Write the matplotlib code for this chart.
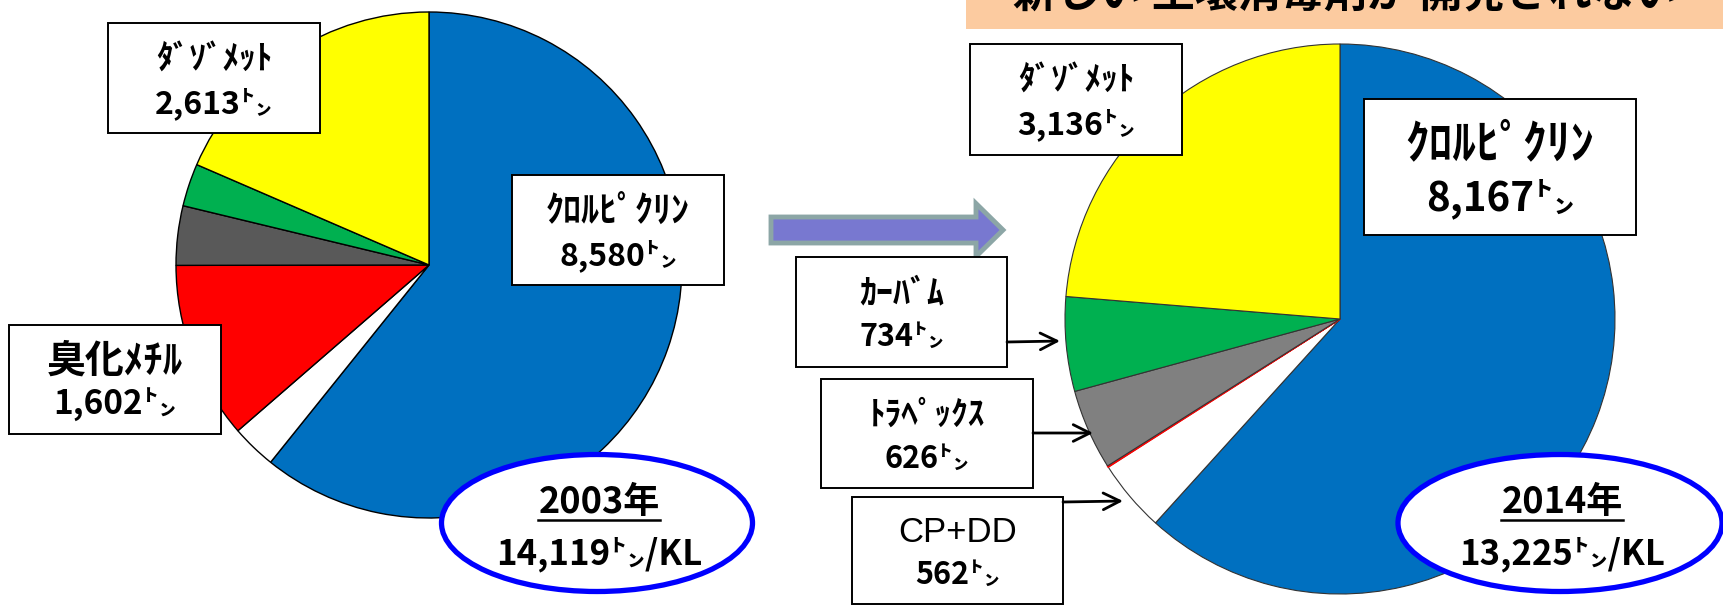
import matplotlib
matplotlib.use('Agg')
import matplotlib.pyplot as plt
from matplotlib.patches import Ellipse, Rectangle, FancyArrow

plt.rcParams['font.family'] = ['Noto Sans CJK JP', 'DejaVu Sans']

W, H = 1724, 606

# 2003 pie, clockwise from the top
names_2003 = ['ｸﾛﾙﾋﾟｸﾘﾝ', 'その他', '臭化ﾒﾁﾙ', 'その他', 'その他', 'ﾀﾞｿﾞﾒｯﾄ']
values_2003 = [8580, 404, 1602, 535, 385, 2613]
colors_2003 = ['#0070C0', '#FFFFFF', '#FF0000', '#595959', '#00B050', '#FFFF00']
total_2003 = 14119

# 2014 pie, clockwise from the top
names_2014 = ['ｸﾛﾙﾋﾟｸﾘﾝ', 'CP+DD', '臭化ﾒﾁﾙ', 'ﾄﾗﾍﾟｯｸｽ', 'ｶｰﾊﾞﾑ', 'ﾀﾞｿﾞﾒｯﾄ']
values_2014 = [8167, 562, 10, 626, 734, 3136]
colors_2014 = ['#0070C0', '#FFFFFF', '#FF0000', '#808080', '#00B050', '#FFFF00']
total_2014 = 13225

banner = '新しい 土壌消毒剤が 開発されない'


def Y(y):
    # image rows -> data y
    return H - y


def tons(v):
    return f'{v:,}㌧'


def label_box(ax, x0, y0, x1, y1, name, value, size, name_size, name_font=None):
    ax.add_patch(Rectangle((x0, Y(y1)), x1 - x0, y1 - y0, facecolor='white',
                           edgecolor='black', linewidth=1.4, zorder=5))
    cx = (x0 + x1) / 2
    h = y1 - y0
    if name_font:
        ax.text(cx, Y(y0 + h * 0.33), name, ha='center', va='center',
                fontsize=name_size, family=name_font, zorder=6)
    else:
        ax.text(cx, Y(y0 + h * 0.33), name, ha='center', va='center',
                fontsize=name_size, fontweight='bold', zorder=6)
    ax.text(cx, Y(y0 + h * 0.73), tons(value), ha='center', va='center',
            fontsize=size, fontweight='bold', zorder=6)


def year_oval(ax, cx, cy, w, h, year, total, size):
    ax.add_patch(Ellipse((cx, Y(cy)), w, h, facecolor='white', edgecolor='#0000FF',
                         linewidth=3.8, zorder=7))
    t = ax.text(cx + 2, Y(cy - 20), f'{year}年', ha='center', va='center',
                fontsize=size, fontweight='bold', zorder=8)
    ax.text(cx + 2, Y(cy + 31), f'{total:,}㌧/KL', ha='center', va='center',
            fontsize=size - 1, fontweight='bold', zorder=8)
    return t


fig = plt.figure(figsize=(W / 100, H / 100), dpi=100)
ax = fig.add_axes([0, 0, 1, 1])

wp = dict(edgecolor='black', linewidth=1.0)
ax.pie(values_2003, colors=colors_2003, startangle=90, counterclock=False,
       center=(429, Y(265)), radius=253, wedgeprops=wp)
w2, _ = ax.pie(values_2014, colors=colors_2014, startangle=90, counterclock=False,
               center=(1340, Y(319)), radius=275,
               wedgeprops=dict(edgecolor='#333333', linewidth=0.8))
w2[2].set_edgecolor('#FF0000')
w2[2].set_linewidth(1.2)

ax.set_xlim(0, W)
ax.set_ylim(0, H)
ax.set_aspect('auto')
ax.axis('off')

# banner at the top, its text is cut off by the top edge in the original
ax.add_patch(Rectangle((966, Y(29)), W - 966, 29, facecolor='#FCCBA0',
                       edgecolor='none', zorder=1))
ax.text(1345, Y(7), banner, ha='center', va='baseline', fontsize=31,
        fontweight='bold', zorder=2)

# 2003 labels
label_box(ax, 108, 23, 320, 133, names_2003[5], values_2003[5], 23, 24)
label_box(ax, 512, 175, 724, 285, names_2003[0], values_2003[0], 23, 26)
label_box(ax, 9, 325, 221, 434, names_2003[2], values_2003[2], 24, 28)
t1 = year_oval(ax, 597, 523, 311, 137, 2003, total_2003, 26)

# 2014 labels
label_box(ax, 970, 44, 1182, 155, names_2014[5], values_2014[5], 23, 24)
label_box(ax, 1364, 99, 1636, 235, names_2014[0], values_2014[0], 29, 34)
label_box(ax, 796, 257, 1007, 367, names_2014[4], values_2014[4], 22, 24.5)
label_box(ax, 821, 379, 1033, 488, names_2014[3], values_2014[3], 22, 24)
label_box(ax, 852, 497, 1063, 604, names_2014[1], values_2014[1], 22, 25,
          name_font='Liberation Sans')
t2 = year_oval(ax, 1560, 523, 324, 137, 2014, total_2014, 26)

# big arrow between the years
ax.add_patch(FancyArrow(771, Y(230), 232, 0, width=26, head_width=53, head_length=27,
                        length_includes_head=True, facecolor='#7878D0',
                        edgecolor='#8CA6A6', linewidth=3.5, zorder=4))

# pointers to the small slices
for (x0, y0), (x1, y1) in [((1007, 342), (1060, 341)),
                           ((1033, 433), (1093, 433)),
                           ((1063, 502), (1123, 501))]:
    ax.annotate('', xy=(x1, Y(y1)), xytext=(x0, Y(y0)),
                arrowprops=dict(arrowstyle='->', lw=2, color='black',
                                mutation_scale=30, shrinkA=0, shrinkB=0), zorder=6)

# underline the years
fig.canvas.draw()
for t in (t1, t2):
    bb = t.get_window_extent()
    ax.plot([bb.x0, bb.x1], [bb.y0 + 2, bb.y0 + 2], color='black', lw=1.8, zorder=8)

fig.savefig('out.png', dpi=100)
